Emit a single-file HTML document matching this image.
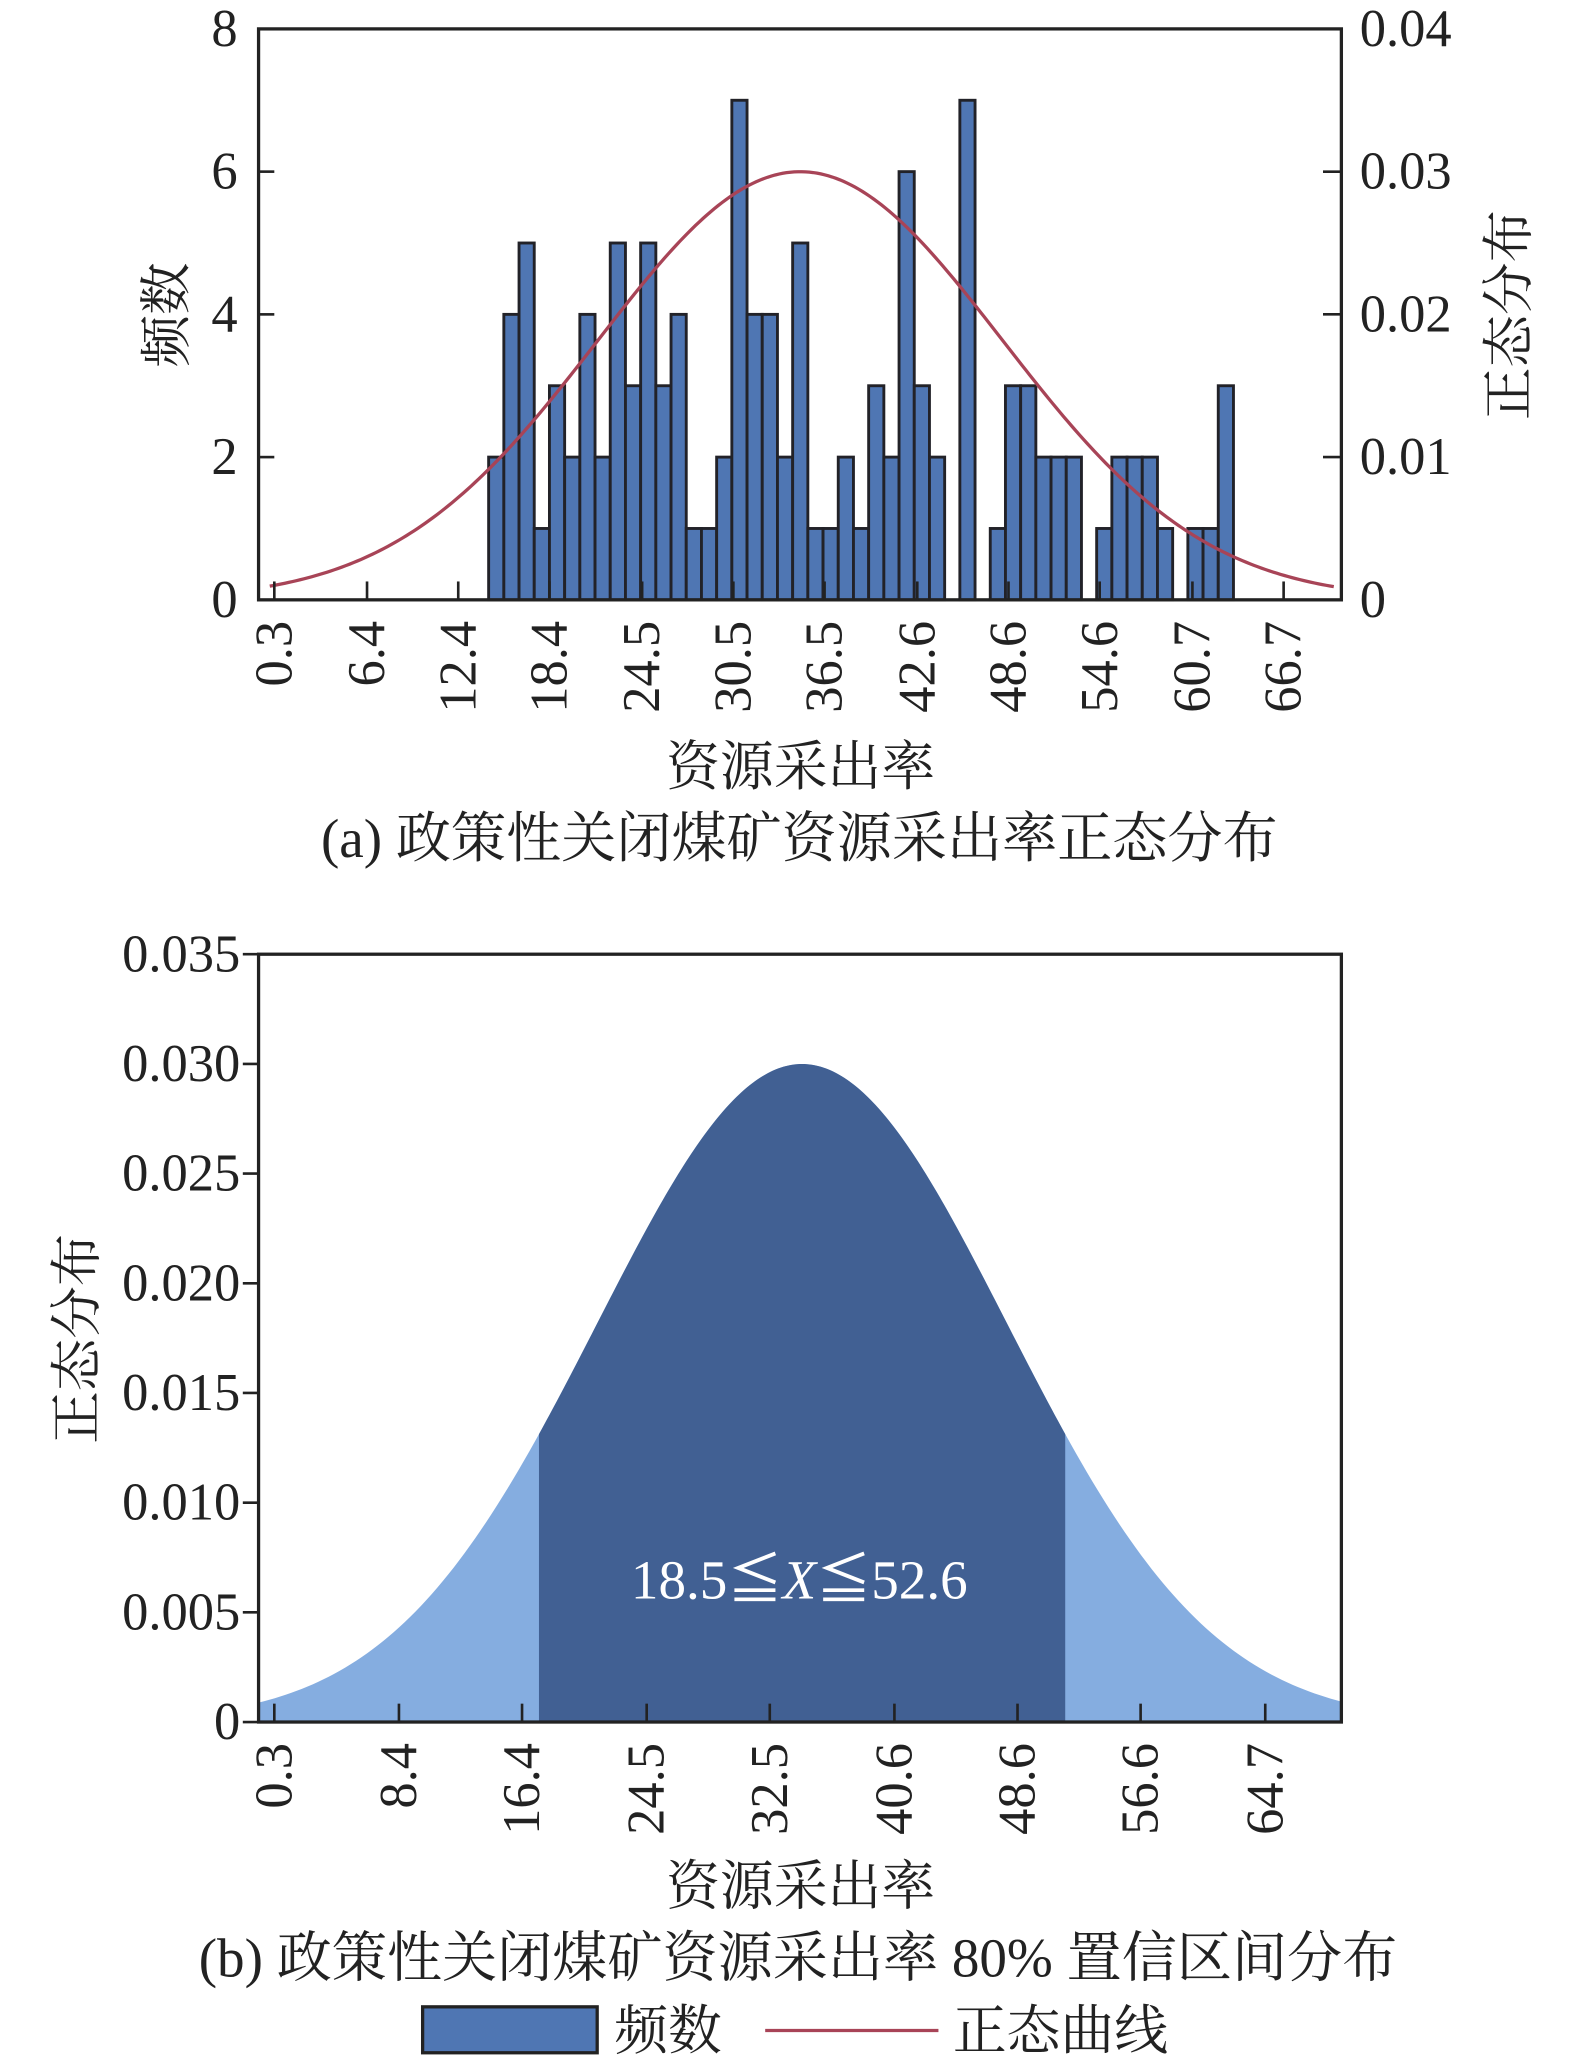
<!DOCTYPE html>
<html><head><meta charset="utf-8">
<style>
html,body{margin:0;padding:0;background:#fff;}
svg{display:block;}
text{font-family:"Liberation Serif","Noto Serif CJK SC",serif;fill:#222;}
</style></head>
<body>
<svg id="fig" width="1575" height="2057" viewBox="0 0 1200 1567.2" xmlns="http://www.w3.org/2000/svg">
<g id="chartA"></g>
<g id="chartB"></g>
<g id="legend">
  <rect x="322" y="1529" width="133" height="35" fill="#4f76b3" stroke="#222" stroke-width="2.5"/>
  <text x="468" y="1561" font-size="41">频数</text>
  <line x1="583" y1="1547" x2="715" y2="1547" stroke="#a84457" stroke-width="2.5"/>
  <text x="726" y="1561" font-size="41">正态曲线</text>
</g>
</svg>
<script>
// ---------- Chart A data ----------
const binStart = 14.4;
const binWidth = 1.0;
const freqValues = [2,4,5,1,3,2,4,2,5,3,5,3,4,1,1,2,7,4,4,2,5,1,1,2,1,3,2,6,3,2,0,7,0,1,3,3,2,2,2,0,1,2,2,2,1,0,1,1,3];
const xTicksA = [0.3,6.4,12.4,18.4,24.5,30.5,36.5,42.6,48.6,54.6,60.7,66.7];
const yTicksLeftA = [0,2,4,6,8];
const yTicksRightA = [0,0.01,0.02,0.03,0.04];
const yTickLabelsRightA = ["0","0.01","0.02","0.03","0.04"];
const normalA = [34.9, 13.3]; // mean, sd
const curveRangeA = [0.0, 70.0];
// ---------- Chart B data ----------
const xTicksB = [0.3,8.4,16.4,24.5,32.5,40.6,48.6,56.6,64.7];
const yTicksB = [0,0.005,0.010,0.015,0.020,0.025,0.030,0.035];
const yTickLabelsB = ["0","0.005","0.010","0.015","0.020","0.025","0.030","0.035"];
const normalB = [34.6, 13.3];
const ciBounds = [17.5, 51.7];

const NS="http://www.w3.org/2000/svg";
const TF=40;
function mk(parent,tag,attrs,txt){const e=document.createElementNS(NS,tag);for(const k in attrs)e.setAttribute(k,attrs[k]);if(txt!==undefined)e.textContent=txt;parent.appendChild(e);return e;}
function pdf(x,m,s){return Math.exp(-0.5*((x-m)/s)**2)/(s*Math.sqrt(2*Math.PI));}

// ---------- Chart A ----------
(function(){
const g=document.getElementById('chartA');
const L=197,R=1022,T=22,B=457;
const xA=v=>209+(v-0.3)*(978-209)/(66.7-0.3);
const yL=v=>B-(v/8)*(B-T);
const yR=v=>B-(v/0.04)*(B-T);
freqValues.forEach((f,i)=>{
  if(f<=0)return;
  const x0=xA(binStart+i*binWidth),x1=xA(binStart+(i+1)*binWidth);
  const r=mk(g,'rect',{x:x0,y:yL(f),width:x1-x0,height:yL(0)-yL(f),fill:'#4f76b3',stroke:'#222228','stroke-width':2.2});
  
  
});
let d='';
for(let v=curveRangeA[0];v<=curveRangeA[1]+1e-9;v+=0.25){d+=(d?'L':'M')+xA(v).toFixed(2)+','+yR(pdf(v,normalA[0],normalA[1])).toFixed(2);}
const c=mk(g,'path',{d:d,fill:'none',stroke:'#a84457','stroke-width':2.5});


const fr=mk(g,'rect',{x:L,y:T,width:R-L,height:B-T,fill:'none',stroke:'#222','stroke-width':2.5});


xTicksA.forEach(v=>{
  const x=xA(v);
  mk(g,'line',{x1:x,y1:B,x2:x,y2:B-14,stroke:'#222','stroke-width':2});
  const t=mk(g,'text',{x:0,y:0,'font-size':TF,'text-anchor':'end',transform:`translate(${x+13},${B+16}) rotate(-90)`},v.toFixed(1));
  
  
});
yTicksLeftA.forEach(v=>{
  const y=yL(v);
  mk(g,'line',{x1:L,y1:y,x2:L+12,y2:y,stroke:'#222','stroke-width':2});
  const t=mk(g,'text',{x:L-16,y:y+13,'font-size':TF,'text-anchor':'end'},String(v));
  
  
});
yTicksRightA.forEach((v,i)=>{
  const y=yR(v);
  mk(g,'line',{x1:R,y1:y,x2:R-14,y2:y,stroke:'#222','stroke-width':2});
  const t=mk(g,'text',{x:R+14,y:y+13,'font-size':TF},yTickLabelsRightA[i]);
  
  
});
let t;
t=mk(g,'text',{x:0,y:0,'font-size':40,'text-anchor':'middle',transform:'translate(140,240) rotate(-90)'},'频数');


t=mk(g,'text',{x:0,y:0,'font-size':40,'text-anchor':'middle',transform:'translate(1163,240) rotate(-90)'},'正态分布');


t=mk(g,'text',{x:610,y:598,'font-size':41,'text-anchor':'middle'},'资源采出率');


t=mk(g,'text',{x:609,y:653,'font-size':42,'text-anchor':'middle'},'(a) 政策性关闭煤矿资源采出率正态分布');


})();

// ---------- Chart B ----------
(function(){
const g=document.getElementById('chartB');
const L=197,R=1022,T=727,B=1312;
const xB=v=>209+(v-0.3)*(964-209)/(64.7-0.3);
const yB=v=>B-(v/0.035)*(B-T);
const xmin=(L-209)*(64.7-0.3)/(964-209)+0.3, xmax=(R-209)*(64.7-0.3)/(964-209)+0.3;
function area(a,b){let d='M'+xB(a)+','+B;for(let v=a;v<=b+1e-9;v+=(b-a)/200){d+='L'+xB(v).toFixed(2)+','+yB(pdf(v,normalB[0],normalB[1])).toFixed(2);}d+='L'+xB(b)+','+B+'Z';return d;}
let p=mk(g,'path',{d:area(xmin,xmax),fill:'#85ade0'});


p=mk(g,'path',{d:area(ciBounds[0],ciBounds[1]),fill:'#416093'});


const fr=mk(g,'rect',{x:L,y:T,width:R-L,height:B-T,fill:'none',stroke:'#222','stroke-width':2.5});


xTicksB.forEach(v=>{
  const x=xB(v);
  mk(g,'line',{x1:x,y1:B,x2:x,y2:B-14,stroke:'#222','stroke-width':2});
  const t=mk(g,'text',{x:0,y:0,'font-size':TF,'text-anchor':'end',transform:`translate(${x+13},${B+16}) rotate(-90)`},v.toFixed(1));
  
  
});
yTicksB.forEach((v,i)=>{
  const y=yB(v);
  mk(g,'line',{x1:L-12,y1:y,x2:L,y2:y,stroke:'#222','stroke-width':2});
  const t=mk(g,'text',{x:L-14,y:y+13,'font-size':TF,'text-anchor':'end'},yTickLabelsB[i]);
  
  
});
let t;
t=mk(g,'text',{x:609,y:1218,'font-size':42,'text-anchor':'middle',style:'fill:#fff'},'');
t.innerHTML='18.5<tspan style="font-family:\'Noto Sans CJK SC\',sans-serif;fill:#fff">≦</tspan><tspan font-style="italic" style="fill:#fff">X</tspan><tspan style="font-family:\'Noto Sans CJK SC\',sans-serif;fill:#fff">≦</tspan>52.6';


t=mk(g,'text',{x:0,y:0,'font-size':40,'text-anchor':'middle',transform:'translate(72,1020) rotate(-90)'},'正态分布');


t=mk(g,'text',{x:610,y:1451,'font-size':41,'text-anchor':'middle'},'资源采出率');


t=mk(g,'text',{x:608,y:1506,'font-size':42,'text-anchor':'middle'},'(b) 政策性关闭煤矿资源采出率 80% 置信区间分布');


})();
</script>
</body></html>
